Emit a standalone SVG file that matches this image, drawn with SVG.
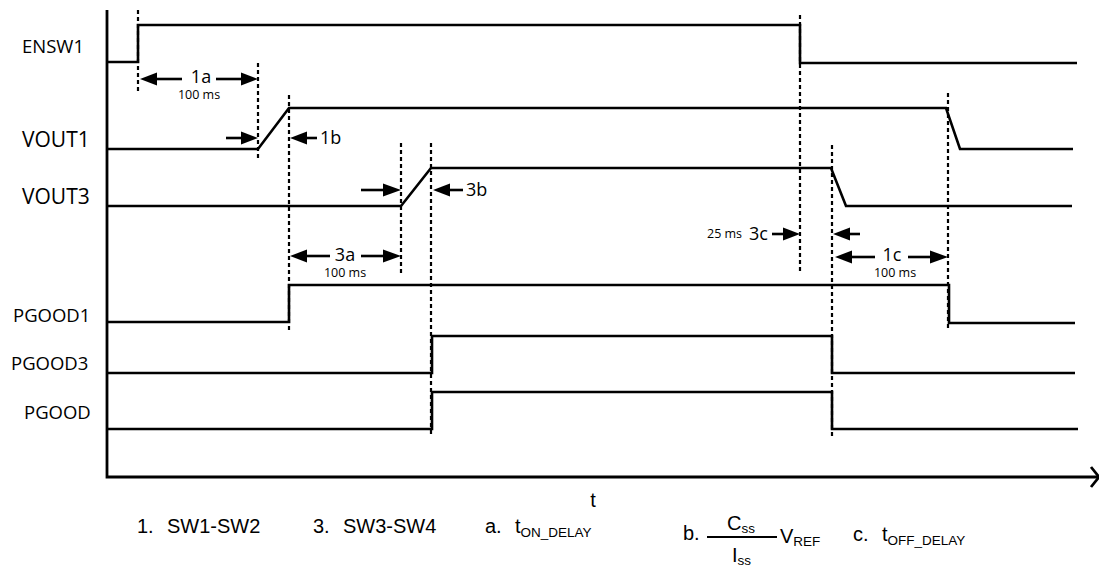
<svg xmlns="http://www.w3.org/2000/svg" width="1099" height="569" viewBox="0 0 1099 569">
<style>
.sig{fill:none;stroke:#000;stroke-width:2.6;stroke-linejoin:miter}
.ax{fill:none;stroke:#000;stroke-width:2.8}
.dash{fill:none;stroke:#000;stroke-width:2.2;stroke-dasharray:4 3}
.ln{fill:none;stroke:#000;stroke-width:2.6}
.ah{fill:#000}
.lbl{font-family:"Open Sans","Liberation Sans",sans-serif;font-size:18.5px;fill:#000}
.big{font-family:"Open Sans","Liberation Sans",sans-serif;font-size:21px;fill:#000}
.tk{font-family:"Open Sans","Liberation Sans",sans-serif;font-size:18px;fill:#000}
.ms{font-family:"Open Sans","Liberation Sans",sans-serif;font-size:12.5px;fill:#000}
.lg{font-family:"Liberation Sans",Arial,sans-serif;font-size:20px;fill:#000}
.sub{font-family:"Liberation Sans",Arial,sans-serif;font-size:13.5px;fill:#000}
</style>
<rect width="1099" height="569" fill="#fff"/>
<g id="axes">
<polyline class="ax" points="107,10 107,477 1099,477"/>
<polyline class="ax" points="1091,467 1099,477 1091,487"/>
<text class="lg" x="593" y="507" text-anchor="middle">t</text>
</g>
<g id="ENSW1">
<text class="lbl" x="22" y="53">ENSW1</text>
<polyline class="sig" points="107,62 138,62 138,25 800,25 800,63 1077,63"/>
</g>
<g id="VOUT1">
<text class="big" x="22" y="147">VOUT1</text>
<polyline class="sig" points="107,149 258,149 289,108 946,108 960,149 1073,149"/>
</g>
<g id="VOUT3">
<text class="big" x="22" y="204">VOUT3</text>
<polyline class="sig" points="107,206 401,206 431,168 831,168 846,206 1072,206"/>
</g>
<g id="PGOOD1">
<text class="lbl" x="13" y="322">PGOOD1</text>
<polyline class="sig" points="107,322 289,322 289,285 949,285 949,323 1075,323"/>
</g>
<g id="PGOOD3">
<text class="lbl" x="11" y="370">PGOOD3</text>
<polyline class="sig" points="107,373 432,373 432,336 832,336 832,373 1075,373"/>
</g>
<g id="PGOOD">
<text class="lbl" x="24" y="419">PGOOD</text>
<polyline class="sig" points="107,429 432,429 432,392 832,392 832,429 1078,429"/>
</g>
<g id="connectors">
<line class="dash" x1="138" y1="10" x2="138" y2="93"/>
<line class="dash" x1="258" y1="63" x2="258" y2="160"/>
<line class="dash" x1="289" y1="95" x2="289" y2="330"/>
<line class="dash" x1="401" y1="143" x2="401" y2="275"/>
<line class="dash" x1="431" y1="143" x2="431" y2="437"/>
<line class="dash" x1="800" y1="15" x2="800" y2="273"/>
<line class="dash" x1="832" y1="145" x2="832" y2="437"/>
<line class="dash" x1="948" y1="93" x2="948" y2="328"/>
<polygon class="ah" points="140,79 157,72.5 157,85.5"/>
<line class="ln" x1="156" y1="79" x2="182" y2="79"/>
<line class="ln" x1="216" y1="79" x2="242" y2="79"/>
<polygon class="ah" points="258,79 241,72.5 241,85.5"/>
<line class="ln" x1="226" y1="138" x2="242" y2="138"/>
<polygon class="ah" points="258,138 241,131.5 241,144.5"/>
<polygon class="ah" points="290,138 307,131.5 307,144.5"/>
<line class="ln" x1="306" y1="138" x2="317" y2="138"/>
<line class="ln" x1="361" y1="190" x2="384" y2="190"/>
<polygon class="ah" points="401,190 383,183.5 383,196.5"/>
<polygon class="ah" points="433,190 450,183.5 450,196.5"/>
<line class="ln" x1="449" y1="190" x2="463" y2="190"/>
<polygon class="ah" points="290,256 307,249.5 307,262.5"/>
<line class="ln" x1="306" y1="256" x2="330" y2="256"/>
<line class="ln" x1="361" y1="256" x2="384" y2="256"/>
<polygon class="ah" points="401,256 383,249.5 383,262.5"/>
<line class="ln" x1="772" y1="234" x2="784" y2="234"/>
<polygon class="ah" points="800,234 783,227.5 783,240.5"/>
<polygon class="ah" points="833,234 850,227.5 850,240.5"/>
<line class="ln" x1="849" y1="234" x2="860" y2="234"/>
<polygon class="ah" points="835,257 852,250.5 852,263.5"/>
<line class="ln" x1="851" y1="257" x2="875" y2="257"/>
<line class="ln" x1="908" y1="257" x2="931" y2="257"/>
<polygon class="ah" points="948,257 930,250.5 930,263.5"/>
</g>
<g id="labels">
<text class="tk" x="201" y="83" text-anchor="middle">1a</text>
<text class="ms" x="199" y="99" text-anchor="middle">100 ms</text>
<text class="tk" x="320" y="144">1b</text>
<text class="tk" x="466" y="196">3b</text>
<text class="tk" x="345" y="261" text-anchor="middle">3a</text>
<text class="ms" x="345" y="277" text-anchor="middle">100 ms</text>
<text class="ms" x="707" y="238">25 ms</text>
<text class="tk" x="749" y="240">3c</text>
<text class="tk" x="892" y="261" text-anchor="middle">1c</text>
<text class="ms" x="895" y="277" text-anchor="middle">100 ms</text>
</g>
<g id="legend">
<text class="lg" x="137" y="533">1.</text>
<text class="lg" x="167" y="533">SW1-SW2</text>
<text class="lg" x="313" y="533">3.</text>
<text class="lg" x="343" y="533">SW3-SW4</text>
<text class="lg" x="485" y="533">a.</text>
<text class="lg" x="515" y="533">t<tspan class="sub" dy="4">ON_DELAY</tspan></text>
<text class="lg" x="683" y="540">b.</text>
<line x1="707" y1="537" x2="777" y2="537" stroke="#000" stroke-width="2"/>
<text class="lg" x="727" y="530">C<tspan class="sub" dy="3">ss</tspan></text>
<text class="lg" x="732" y="562">I<tspan class="sub" dy="3">ss</tspan></text>
<text class="lg" x="780" y="543">V<tspan class="sub" dy="3">REF</tspan></text>
<text class="lg" x="853" y="541">c.</text>
<text class="lg" x="882" y="541">t<tspan class="sub" dy="4">OFF_DELAY</tspan></text>
</g>
</svg>
